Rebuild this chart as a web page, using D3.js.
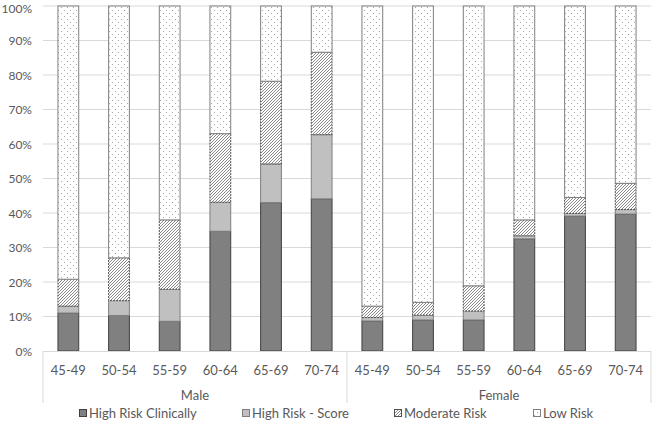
<!DOCTYPE html>
<html><head><meta charset="utf-8">
<script src="https://cdn.jsdelivr.net/npm/d3@7"></script>
<style>
html,body{margin:0;padding:0;background:#fff;}
text{font-family:Lato,"Open Sans",sans-serif;fill:#595959;}
</style></head>
<body><svg id="chart" width="652" height="423"></svg>
<script>
const ageGroups = ["45-49","50-54","55-59","60-64","65-69","70-74"];
const sexes = ["Male","Female"];
const seriesNames = ["High Risk Clinically","High Risk - Score","Moderate Risk","Low Risk"];
const highRiskClinically = [11.0,10.3,8.6,34.7,43.0,44.1, 8.7,9.0,9.0,32.5,39.1,39.7];
const highRiskScore      = [2.0,4.3,9.3,8.4,11.2,18.6, 1.0,1.4,2.6,0.9,0.8,1.3];
const moderateRisk       = [7.8,12.4,20.1,19.9,24.0,23.9, 3.3,3.7,7.3,4.6,4.6,7.6];
const lowRisk            = [79.2,73.0,62.0,37.0,21.8,13.4, 87.0,85.9,81.1,62.0,55.5,51.4];
const yTicks = [0,10,20,30,40,50,60,70,80,90,100];

const rows = [];
sexes.forEach((s,si)=>ageGroups.forEach((a,ai)=>{
  const i = si*ageGroups.length+ai;
  rows.push({key:s+"|"+a, sex:s, age:a,
    "High Risk Clinically":highRiskClinically[i],
    "High Risk - Score":highRiskScore[i],
    "Moderate Risk":moderateRisk[i],
    "Low Risk":lowRisk[i]});
}));

const svg = d3.select("#chart");
const L=43, R=651, T=6, B=351;
const x = d3.scaleBand().domain(rows.map(d=>d.key)).range([L,R]).padding(0);
const y = d3.scaleLinear().domain([0,100]).range([B,T]);
const barW = x.bandwidth()*0.41;

const defs = svg.append("defs");
const hatch = defs.append("pattern").attr("id","hatch").attr("patternUnits","userSpaceOnUse")
  .attr("width",3).attr("height",3);
hatch.append("rect").attr("width",3).attr("height",3).attr("fill","#fff");
hatch.append("path").attr("d","M-1,1 l2,-2 M0,3 l3,-3 M2,4 l2,-2").attr("stroke","#7a7a7a").attr("stroke-width",0.9);
const dots = defs.append("pattern").attr("id","dots").attr("patternUnits","userSpaceOnUse")
  .attr("width",6).attr("height",6);
dots.append("rect").attr("width",6).attr("height",6).attr("fill","#fff");
dots.append("circle").attr("cx",1.5).attr("cy",1.5).attr("r",0.6).attr("fill","#999");
dots.append("circle").attr("cx",4.5).attr("cy",4.5).attr("r",0.6).attr("fill","#999");

const fills = {"High Risk Clinically":"#808080","High Risk - Score":"#c0c0c0","Moderate Risk":"url(#hatch)","Low Risk":"url(#dots)"};
const strokes = {"High Risk Clinically":"#404040","High Risk - Score":"#7f7f7f","Moderate Risk":"#505050","Low Risk":"#7f7f7f"};
const dashes = {"High Risk Clinically":null,"High Risk - Score":null,"Moderate Risk":"2,1","Low Risk":null};

// gridlines
svg.append("g").selectAll("line").data(yTicks.filter(t=>t>0)).join("line")
  .attr("x1",L).attr("x2",R).attr("y1",d=>y(d)).attr("y2",d=>y(d))
  .attr("stroke","#d9d9d9").attr("stroke-width",1);

// y axis labels
const yAxis = d3.axisLeft(y).tickValues(yTicks).tickFormat(d=>d+"%").tickSize(0).tickPadding(0);
const ya = svg.append("g").attr("transform","translate(32,0)").call(yAxis);
ya.select(".domain").remove();
ya.selectAll("text").attr("font-size",12).attr("fill","#595959")
  .attr("dy",d=>d===100?"0.5em":"0.35em").style("font-family","Lato, sans-serif");

// bars
const stack = d3.stack().keys(seriesNames);
const layers = stack(rows);
svg.append("g").selectAll("g").data(layers).join("g")
  .each(function(layer){
    d3.select(this).selectAll("rect").data(layer).join("rect")
      .attr("x",d=>x(d.data.key)+(x.bandwidth()-barW)/2)
      .attr("width",barW)
      .attr("y",d=>y(d[1]))
      .attr("height",d=>y(d[0])-y(d[1]))
      .attr("fill",fills[layer.key])
      .attr("stroke",strokes[layer.key])
      .attr("stroke-width",1)
      .attr("stroke-dasharray",dashes[layer.key]);
  });

// category axis lines
svg.append("line").attr("x1",L).attr("x2",R).attr("y1",B+0.5).attr("y2",B+0.5).attr("stroke","#d9d9d9");
const sepX = [L, x(rows[ageGroups.length].key), R];
svg.append("g").selectAll("line").data(sepX).join("line")
  .attr("x1",d=>d).attr("x2",d=>d).attr("y1",B).attr("y2",403).attr("stroke","#d9d9d9");

// category labels
svg.append("g").selectAll("text").data(rows).join("text")
  .attr("x",d=>x(d.key)+x.bandwidth()/2).attr("y",375)
  .attr("text-anchor","middle").attr("font-size",13).text(d=>d.age);
svg.append("g").selectAll("text").data(sexes).join("text")
  .attr("x",(d,i)=>(sepX[i]+sepX[i+1])/2).attr("y",400)
  .attr("text-anchor","middle").attr("font-size",13).text(d=>d);

// legend
const legX = [79, 242, 394, 533];
const lg = svg.append("g").selectAll("g").data(seriesNames).join("g")
  .attr("transform",(d,i)=>`translate(${legX[i]},0)`);
lg.append("rect").attr("x",0.5).attr("y",409.5).attr("width",7).attr("height",7)
  .attr("fill",d=>fills[d]).attr("stroke",d=>strokes[d]);
lg.append("text").attr("x",10).attr("y",417.5).attr("font-size",13).text(d=>d);
</script></body></html>
